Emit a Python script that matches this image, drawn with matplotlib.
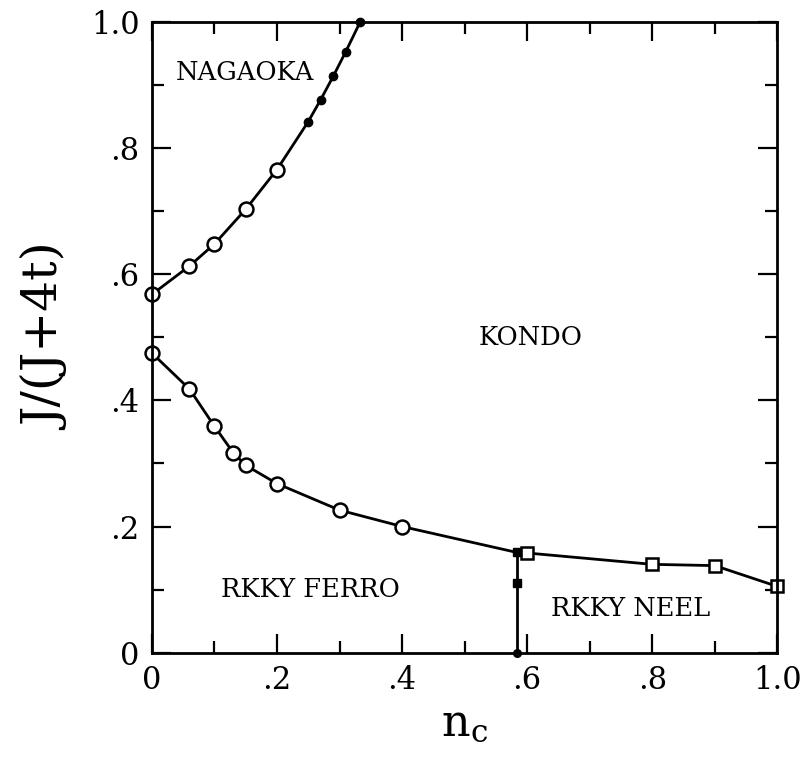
import matplotlib
matplotlib.use("Agg")
import matplotlib.pyplot as plt
from matplotlib.ticker import MultipleLocator, FixedLocator, FixedFormatter

plt.rcParams["font.family"] = ["DejaVu Serif"]
plt.rcParams["mathtext.fontset"] = "dejavuserif"

# ── 数据───────────────────────────────────────────────────────────────
# 上边界 NAGAOKA / KONDO
nag_open_x = [0.0, 0.06, 0.10, 0.15, 0.20]
nag_open_y = [0.568, 0.613, 0.648, 0.703, 0.766]
nag_fill_x = [0.25, 0.27, 0.29, 0.31, 0.333]
nag_fill_y = [0.842, 0.877, 0.914, 0.953, 1.0]

# 下边界 RKKY FERRO / KONDO
ferro_x = [0.0, 0.06, 0.10, 0.13, 0.15, 0.20, 0.30, 0.40]
ferro_y = [0.475, 0.418, 0.359, 0.317, 0.297, 0.268, 0.226, 0.200]

# 转变点（实心方块）
trans_x = [0.583, 0.583]
trans_y = [0.159, 0.110]
trans_bottom = [0.583, 0.0]

# RKKY NEEL / KONDO
neel_x = [0.60, 0.80, 0.90, 1.0]
neel_y = [0.158, 0.140, 0.138, 0.105]

tick_vals = [0, 0.2, 0.4, 0.6, 0.8, 1.0]
tick_labels = ["0", ".2", ".4", ".6", ".8", "1.0"]

regions = [("NAGAOKA", 0.149, 0.92), ("KONDO", 0.606, 0.50),
           ("RKKY FERRO", 0.253, 0.10), ("RKKY NEEL", 0.765, 0.07)]

# ── 绘图 ────────────────────────────────────────────────────────────────────
fig = plt.figure(figsize=(8.08, 7.58), dpi=100)
ax = fig.add_axes([0.188, 0.139, 0.774, 0.832])

lw = 2.0
# 上曲线
ax.plot(nag_open_x + nag_fill_x, nag_open_y + nag_fill_y, "k-", lw=lw, clip_on=False)
ax.plot(nag_open_x, nag_open_y, "o", ms=10, mfc="white", mec="k", mew=1.8, clip_on=False)
ax.plot(nag_fill_x, nag_fill_y, "o", ms=6, color="k", clip_on=False)

# 下曲线
low_x = ferro_x + [trans_x[0]] + neel_x
low_y = ferro_y + [trans_y[0]] + neel_y
ax.plot(low_x, low_y, "k-", lw=lw, clip_on=False)
ax.plot(ferro_x, ferro_y, "o", ms=10, mfc="white", mec="k", mew=1.8, clip_on=False)
ax.plot(neel_x, neel_y, "s", ms=8.5, mfc="white", mec="k", mew=1.8, clip_on=False)

# 竖线（FERRO / NEEL 分界）
ax.plot([trans_x[0], trans_bottom[0]], [trans_y[0], trans_bottom[1]], "k-", lw=lw)
ax.plot(trans_x, trans_y, "s", ms=6, color="k", clip_on=False)
ax.plot([trans_bottom[0]], [trans_bottom[1]], "o", ms=5.5, color="k", clip_on=False)

for name, tx, ty in regions:
    ax.text(tx, ty, name, ha="center", va="center", fontsize=18.5)

ax.set_xlim(0, 1)
ax.set_ylim(0, 1)
for a in (ax.xaxis, ax.yaxis):
    a.set_major_locator(FixedLocator(tick_vals))
    a.set_major_formatter(FixedFormatter(tick_labels))
    a.set_minor_locator(MultipleLocator(0.1))
ax.tick_params(which="both", direction="in", top=True, right=True, width=1.6,
               labelsize=22)
ax.tick_params(which="major", length=14)
ax.tick_params(which="minor", length=8.5)
ax.tick_params(axis="x", pad=9)
ax.tick_params(axis="y", pad=9)
for s in ax.spines.values():
    s.set_linewidth(2)

ax.set_xlabel(r"$\mathrm{n_c}$", fontsize=32, labelpad=4)
ax.set_ylabel("J/(J+4t)", fontsize=35, labelpad=14)

fig.savefig("out.png", dpi=100)
